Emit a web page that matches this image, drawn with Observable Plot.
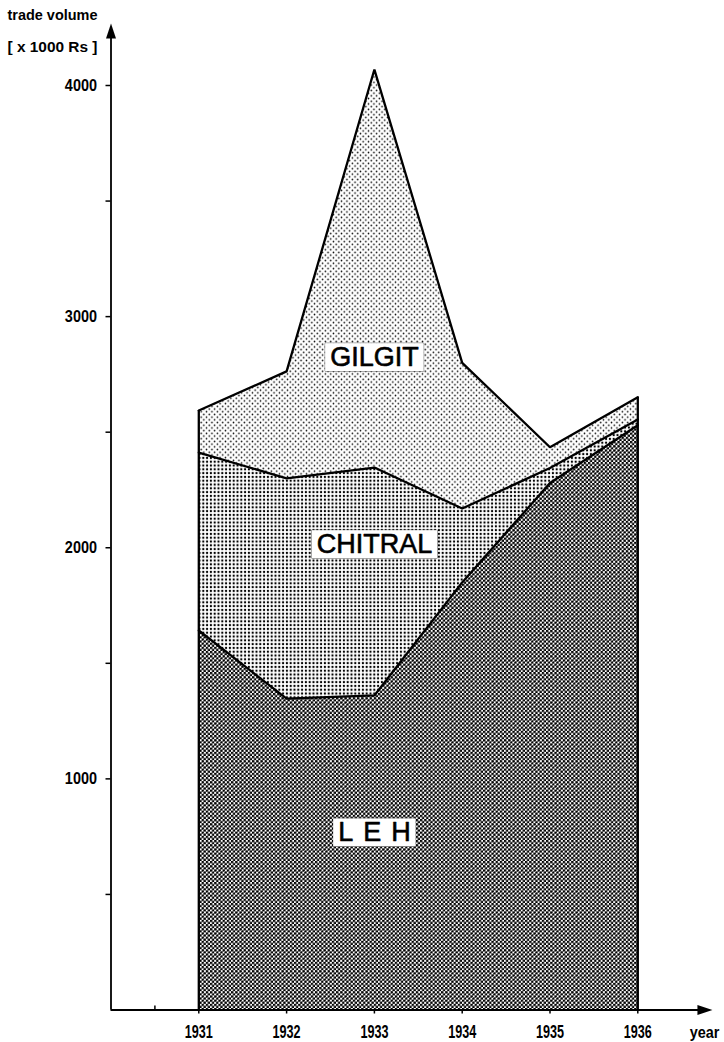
<!DOCTYPE html>
<html><head><meta charset="utf-8">
<script src="https://cdn.jsdelivr.net/npm/d3@7"></script>
<script src="https://cdn.jsdelivr.net/npm/@observablehq/plot@0.6"></script>
<style>
html,body{margin:0;padding:0;background:#fff;}
#chart svg{display:block;}
</style>
</head><body><div id="chart"></div>
<script>
// ---- data (thousands of Rs) ----
const years = [1931, 1932, 1933, 1934, 1935, 1936];
const regions = ["LEH", "CHITRAL", "GILGIT"];
const leh     = [1642, 1347, 1361, 1850, 2280, 2530];
const chitral = [770, 953, 986, 320, 65, 25];
const gilgit  = [182, 463, 1722, 630, 90, 96];
const yMajorTicks = [1000, 2000, 3000, 4000];
const yMinorTicks = [500, 1500, 2500, 3500];
const xTicks = [1931, 1932, 1933, 1934, 1935, 1936];
const xOrigin = 1930;
const xArrowEnd = 1936.85;
const yArrowEnd = 4268;
const labelAnchors = [
  {name: "GILGIT", year: 1933, value: 2823},
  {name: "CHITRAL", year: 1933, value: 2014},
  {name: "LEH", year: 1933, value: 767}
];

const series = {LEH: leh, CHITRAL: chitral, GILGIT: gilgit};
const data = [];
years.forEach((year, i) => regions.forEach(region => data.push({year, region, value: series[region][i]})));
const totals = years.map((year, i) => ({year, total: leh[i] + chitral[i] + gilgit[i]}));
const edges = totals.filter(d => d.year === years[0] || d.year === years[years.length - 1]);

const tickFont = "'Liberation Sans',Arial,sans-serif";
const arrowHead = {draw(ctx) { ctx.moveTo(0, 0); ctx.lineTo(5, 15); ctx.lineTo(-5, 15); ctx.closePath(); }};

const plot = Plot.plot({
  width: 724,
  height: 1042,
  marginLeft: 110.5,
  marginRight: 86.7,
  marginTop: 85,
  marginBottom: 32.5,
  x: {domain: [1930, 1936]},
  y: {domain: [0, 4000]},
  color: {domain: regions, range: ["url(#p-leh)", "url(#p-chitral)", "url(#p-gilgit)"]},
  style: {background: "white", color: "black"},
  marks: [
    Plot.areaY(data, Plot.stackY({x: "year", y: "value", z: "region", fill: "region", order: null})),
    Plot.lineY(data, Plot.stackY2({x: "year", y: "value", z: "region", order: null, stroke: "black", strokeWidth: 2.3, strokeLinejoin: "miter"})),
    Plot.ruleX(edges, {x: "year", y1: 0, y2: "total", stroke: "black", strokeWidth: 2.3}),
    // axes
    Plot.ruleX([xOrigin], {y1: 0, y2: yArrowEnd - 40, stroke: "black", strokeWidth: 1.8}),
    Plot.ruleY([0], {x1: xOrigin, x2: xArrowEnd - 0.1, stroke: "black", strokeWidth: 1.8}),
    Plot.dot([{x: xOrigin, y: yArrowEnd}], {x: "x", y: "y", symbol: arrowHead, fill: "black", stroke: "none"}),
    Plot.dot([{x: xArrowEnd, y: 0}], {x: "x", y: "y", symbol: arrowHead, rotate: 90, fill: "black", stroke: "none"}),
    Plot.axisY(yMajorTicks, {x: xOrigin, anchor: "left", tickSize: 5, tickPadding: 9, strokeWidth: 1.5, tickFormat: d => String(d), label: null, fontSize: 17, fontWeight: "bold", fontFamily: tickFont}),
    Plot.axisY(yMinorTicks, {x: xOrigin, anchor: "left", tickSize: 5, strokeWidth: 1.5, tickFormat: () => "", label: null}),
    Plot.axisX(xTicks, {tickSize: 4, tickPadding: 11, strokeWidth: 1.5, tickFormat: d => String(d), label: null, fontSize: 18, fontWeight: "bold", fontFamily: tickFont}),
    Plot.ruleX([xOrigin + 0.5], {y1: 0, y2: 17, stroke: "black", strokeWidth: 1.5}),
    Plot.text(["year"], {frameAnchor: "bottom-right", dx: 52, dy: 23, textAnchor: "start", lineAnchor: "middle", fontSize: 16, fontWeight: "bold", fontFamily: tickFont}),
    Plot.text(["trade volume"], {frameAnchor: "top-left", dx: -103.5, dy: -70, textAnchor: "start", lineAnchor: "middle", fontSize: 15.5, fontWeight: "bold", fontFamily: tickFont}),
    Plot.text(["[ x 1000 Rs ]"], {frameAnchor: "top-left", dx: -103.5, dy: -38, textAnchor: "start", lineAnchor: "middle", fontSize: 15.5, fontWeight: "bold", fontFamily: tickFont}),
    Plot.text(labelAnchors, {x: "year", y: "value", text: "name", fontSize: 27, fontFamily: "'Liberation Sans',Arial,sans-serif", fill: "black", stroke: "black", strokeWidth: 0.6})
  ]
});

document.getElementById("chart").append(plot);
const svg = d3.select(plot);
const defs = svg.insert("defs", ":first-child");
function pattern(id, size, dots, r) {
  const p = defs.append("pattern").attr("id", id).attr("patternUnits", "userSpaceOnUse")
    .attr("width", size).attr("height", size);
  p.append("rect").attr("width", size).attr("height", size).attr("fill", "white");
  dots.forEach(([cx, cy]) => p.append("circle").attr("cx", cx).attr("cy", cy).attr("r", r).attr("fill", "black"));
}
pattern("p-gilgit", 5.4, [[1.35, 1.35], [4.05, 4.05]], 0.8);
pattern("p-chitral", 3.8, [[1.9, 1.9]], 1.15);
pattern("p-leh", 4.2, [[1.05, 1.05], [3.15, 3.15]], 1.35);

const names = new Set(labelAnchors.map(d => d.name));
const xTickSet = new Set(xTicks.map(String));
svg.selectAll("text").each(function () {
  const t = d3.select(this);
  const s = t.text();
  if (names.has(s)) {
    if (s === "LEH") t.attr("letter-spacing", "10px").attr("dx", "5");
    const b = this.getBBox();
    d3.select(this.parentNode).insert("rect", () => this)
      .attr("transform", t.attr("transform"))
      .attr("x", b.x - 5).attr("y", b.y + 1).attr("width", b.width + 10 - (s === "LEH" ? 10 : 0)).attr("height", b.height - 2)
      .attr("fill", "white");
    return;
  }
  if (s === "trade volume" || s === "[ x 1000 Rs ]") { t.attr("textLength", 90).attr("lengthAdjust", "spacingAndGlyphs"); return; }
  const w = this.getComputedTextLength();
  let f = 0.85;
  if (xTickSet.has(s)) f = 0.7;
  if (s === "year") f = 0.9;
  t.attr("textLength", w * f).attr("lengthAdjust", "spacingAndGlyphs");
});
</script>
</body></html>
